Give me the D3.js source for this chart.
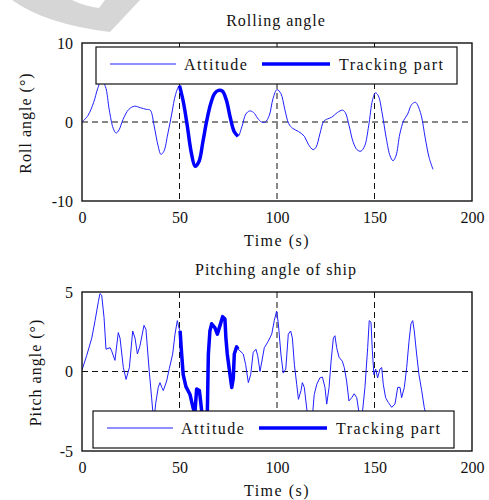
<!DOCTYPE html>
<html>
<head>
<meta charset="utf-8">
<script src="https://cdn.jsdelivr.net/npm/d3@7"></script>
<style>
  body { margin: 0; background: #fff; }
  svg text { font-family: "Liberation Serif", "Times New Roman", serif; fill: #111; }
</style>
</head>
<body>
<svg id="chart"></svg>
<script>
// data
var timeTicks = [0, 50, 100, 150, 200];
var rollTicks = [-10, 0, 10];
var pitchTicks = [-5, 0, 5];
var trackWindow = [50, 80];   // seconds shown as "Tracking part"
var legendLabels = ["Attitude", "Tracking part"];

var rollTime = [0,3,6,8,10,12,14,16,17.5,19,21,24,27,30,33,35,37,39,40.5,42,44,46,48,50,52,54,56,58,60,62,64,66,68,70,72,74,76,78,80,82,84,86,88,90,92,94,96,98,100,102,104,106,108,111,114,116,118.5,120,122,124,126,128,131,133.5,135,137,139,141,143,145,147,149,150.5,152,154,156,158,159.5,161,163,165,167,169,171,172,174,176,178,180];
var rollVal = [0,0.8,2.5,4.2,5.3,4.5,1.5,-0.8,-1.4,-1.0,0.3,1.6,2.0,1.8,1.6,1.5,-0.5,-3.0,-4.1,-3.7,-1.5,1.0,3.5,4.6,2.5,-0.5,-3.8,-5.6,-5.0,-2.5,0.2,2.3,3.6,4.0,3.9,2.8,0.6,-1.2,-1.8,-0.6,1.0,1.4,1.2,0.5,0.0,0.0,0.8,3.0,4.1,3.6,1.6,-0.2,-0.8,-1.2,-1.8,-2.8,-3.5,-3.2,-1.5,0.1,0.4,0.6,1.2,1.5,1.2,-0.5,-2.5,-3.5,-3.7,-3.0,-0.5,2.8,3.7,3.3,1.0,-2.0,-4.3,-4.9,-4.3,-1.5,0.2,1.0,2.2,2.5,2.2,0.8,-2.0,-4.5,-6.0];

var pitchTime = [0,2.4,5,6.7,8.4,9.2,10.1,11.3,12.3,14.4,15.2,16.9,18.6,19.5,21.2,22.6,24.3,26,27.2,28.4,29.7,31.8,32.8,34.5,35.7,36.8,37.8,39.1,40,40.9,41.7,43.4,44.8,46.5,47.7,48.9,49.6,50.3,51.1,51.9,53.3,55.4,57,57.9,58.8,60.2,60.9,62,63.5,64.3,64.8,65.6,66.5,68.2,69.4,70.8,72.1,73.3,73.8,74.5,75.9,76.8,77.6,78.1,79.3,80,81,82.7,83.9,85.3,86.5,87.8,89.2,90.1,91.3,93.5,95.5,97.3,98.6,99.8,100.7,102,103.2,104.5,105.8,107,107.9,108.9,110.1,111,112.3,113,114,115.5,117,118.3,119.1,120.4,122,123.3,124.6,125.5,126.7,127.7,128.9,129.7,130.6,131.8,133.5,134.5,135.7,136.9,138.3,139.6,140.9,142.3,143.7,145.1,146.5,147.3,148.2,148.9,149.7,150.6,151.6,152.8,153.7,154.5,155.7,157.1,158.8,160.5,161.9,163.1,163.9,165.3,166.5,167.7,168.7,169.6,170.4,171.6,172.8,174.2,175.5,177,180];
var pitchVal = [0.1,1.0,2.1,3.2,4.4,4.9,4.8,3.4,1.4,1.5,1.3,0.7,2.45,2.1,0.25,-0.5,0.25,2.55,2.1,1.1,1.6,2.9,2.65,0,-1.65,-3.2,-2.0,-1.0,-0.7,-1.0,-1.2,-0.6,0.2,1.1,2.35,3.2,2.8,2.55,1.1,-0.2,-0.95,-1.45,-2.3,-2.6,-1.1,-1.2,-1.95,-3.2,-3.0,-2.4,1.1,2.55,3.0,2.75,2.35,2.9,3.45,3.3,2.1,1.1,-0.2,-1.0,-0.4,1.1,1.55,1.4,1.3,1.1,0.45,-0.7,-0.2,1.2,1.4,1.0,0,1.5,1.9,2.35,3.2,3.8,3.0,1.1,-0.1,0.15,2.35,2.55,2.1,0.45,-0.8,-1.75,-1.2,-0.7,-1.0,-2.6,-3.0,-2.6,-1.45,-0.8,-0.4,-0.35,-1.0,-2.05,-1.0,0.6,2.1,2.25,1.5,0.9,0.65,0.25,-0.6,-1.85,-1.65,-1.4,-1.65,-2.8,-2.7,-1.0,1.5,3.2,3.1,1.3,-0.2,0.15,-0.4,0.15,0.25,-0.8,-1.65,-1.95,-2.25,-2.05,-1.0,-1.0,-1.65,-1.0,0.25,1.9,3.0,3.2,2.55,1.1,-0.2,-1.2,-2.25,-3.0,-3.4];

var svgWidth = 489, svgHeight = 500;
var svg = d3.select("#chart")
    .attr("width", svgWidth)
    .attr("height", svgHeight);

// faint watermark in the top-left corner
svg.append("path")
    .attr("d", "M12,0 Q45,24 110,32 L140,0 L105,0 L99,8 Q84,6 72,0 Z")
    .attr("fill", "#d6d6d6");

function drawPanel(p) {
    var x = d3.scaleLinear().domain([0, 200]).range([82, 472]);
    var y = d3.scaleLinear().domain(p.domain).range([p.bottom, p.top]);
    var pts = p.time.map(function(t, i) { return { t: t, v: p.val[i] }; });
    var track = pts.filter(function(d) { return d.t >= trackWindow[0] && d.t <= trackWindow[1]; });

    var g = svg.append("g");

    g.append("clipPath").attr("id", p.id)
        .append("rect")
        .attr("x", x(0)).attr("y", y(p.domain[1]))
        .attr("width", x(200) - x(0)).attr("height", y(p.domain[0]) - y(p.domain[1]));

    // dashed grid
    g.selectAll(".vgrid")
        .data([50, 100, 150])
        .enter()
        .append("line")
        .attr("x1", function(d) { return x(d); })
        .attr("x2", function(d) { return x(d); })
        .attr("y1", p.top).attr("y2", p.bottom)
        .attr("stroke", "#111").attr("stroke-dasharray", "6,4");
    g.append("line")
        .attr("x1", x(0)).attr("x2", x(200))
        .attr("y1", y(0)).attr("y2", y(0))
        .attr("stroke", "#111").attr("stroke-dasharray", "6,4");

    var line = d3.line()
        .x(function(d) { return x(d.t); })
        .y(function(d) { return y(d.v); })
        .curve(p.curve);

    g.append("path")
        .datum(pts)
        .attr("clip-path", "url(#" + p.id + ")")
        .attr("fill", "none")
        .attr("stroke", "#2020ff")
        .attr("stroke-width", 1)
        .attr("d", line);

    g.append("path")
        .datum(track)
        .attr("clip-path", "url(#" + p.id + ")")
        .attr("fill", "none")
        .attr("stroke", "#0000ff")
        .attr("stroke-width", 3.5)
        .attr("stroke-linejoin", "round")
        .attr("d", line);

    // axes, no visible tick marks, plain hyphen minus
    var fmt = function(d) { return String(d); };
    var xAxis = d3.axisBottom(x).tickValues(timeTicks).tickSize(0).tickPadding(11).tickFormat(fmt);
    var yAxis = d3.axisLeft(y).tickValues(p.ticks).tickSize(0).tickPadding(9).tickFormat(fmt);

    var gx = g.append("g")
        .attr("transform", "translate(0," + p.bottom + ")")
        .call(xAxis);
    var gy = g.append("g")
        .attr("transform", "translate(82,0)")
        .call(yAxis);
    [gx, gy].forEach(function(a) {
        a.select(".domain").remove();
        a.selectAll("text").attr("font-size", 16).attr("fill", "#111");
    });

    g.append("rect")
        .attr("x", x(0)).attr("y", p.top)
        .attr("width", x(200) - x(0)).attr("height", p.bottom - p.top)
        .attr("fill", "none").attr("stroke", "#111").attr("stroke-width", 1.4);

    // titles
    g.append("text")
        .attr("x", 276).attr("y", p.top - 17)
        .attr("text-anchor", "middle")
        .attr("font-size", 16).attr("letter-spacing", 1)
        .text(p.title);
    g.append("text")
        .attr("x", 277).attr("y", p.bottom + 45)
        .attr("text-anchor", "middle")
        .attr("font-size", 16).attr("letter-spacing", 1.5)
        .text("Time (s)");
    g.append("text")
        .attr("transform", "translate(" + p.ylabelX + "," + ((p.top + p.bottom) / 2 + 1) + ") rotate(-90)")
        .attr("text-anchor", "middle")
        .attr("font-size", 16).attr("letter-spacing", 1)
        .text(p.ylabel);

    // legend box
    var lg = g.append("g").attr("transform", "translate(" + p.legend[0] + "," + p.legend[1] + ")");
    lg.append("rect")
        .attr("width", 361).attr("height", 37)
        .attr("fill", "#fff").attr("stroke", "#111").attr("stroke-width", 1.2);
    lg.append("line")
        .attr("x1", 14).attr("x2", 80).attr("y1", 17).attr("y2", 17)
        .attr("stroke", "#2020ff").attr("stroke-width", 1);
    lg.append("text")
        .attr("x", 88).attr("y", 23)
        .attr("font-size", 16).attr("letter-spacing", 1.5)
        .text(legendLabels[0]);
    lg.append("line")
        .attr("x1", 166).attr("x2", 234).attr("y1", 17).attr("y2", 17)
        .attr("stroke", "#0000ff").attr("stroke-width", 3.5);
    lg.append("text")
        .attr("x", 243).attr("y", 23)
        .attr("font-size", 16).attr("letter-spacing", 1.5)
        .text(legendLabels[1]);
}

drawPanel({
    id: "clipRoll", title: "Rolling angle", ylabel: "Roll angle (°)",
    time: rollTime, val: rollVal, domain: [-10, 10], ticks: rollTicks,
    top: 43, bottom: 201, ylabelX: 31, legend: [96, 47],
    curve: d3.curveCatmullRom
});

drawPanel({
    id: "clipPitch", title: "Pitching angle of ship", ylabel: "Pitch angle (°)",
    time: pitchTime, val: pitchVal, domain: [-5, 5], ticks: pitchTicks,
    top: 292, bottom: 451, ylabelX: 41, legend: [93, 411],
    curve: d3.curveLinear
});
</script>
</body>
</html>
